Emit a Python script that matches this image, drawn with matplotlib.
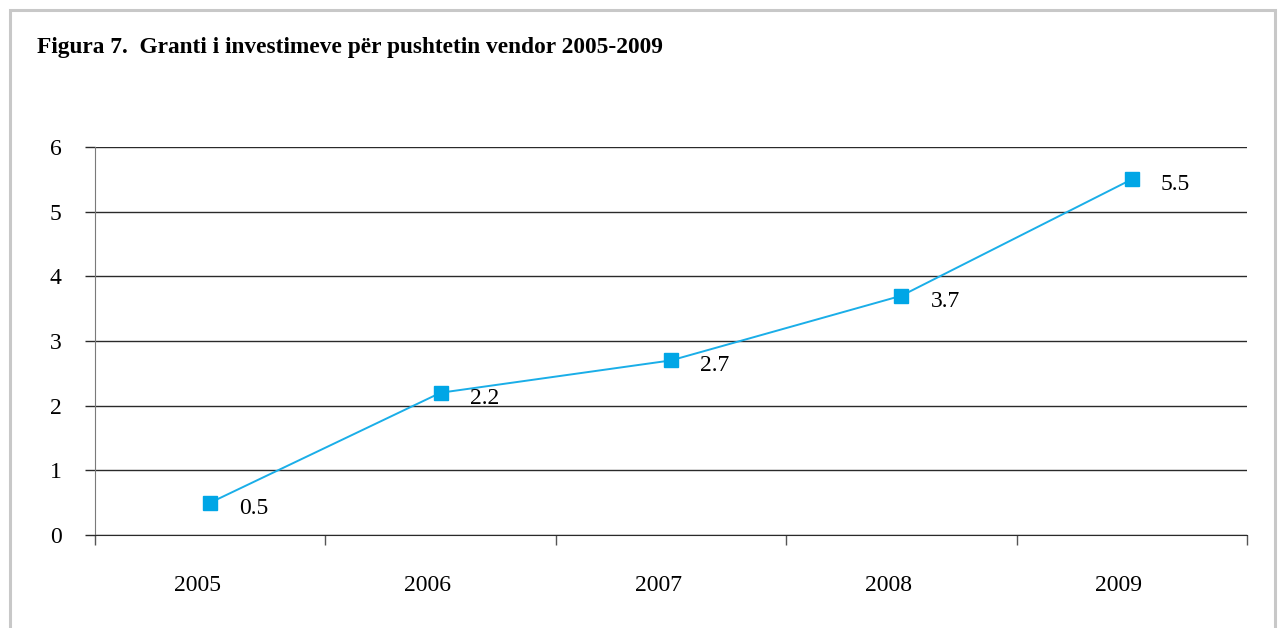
import matplotlib
matplotlib.use("Agg")
import matplotlib.pyplot as plt
import matplotlib.transforms as mtransforms
from matplotlib.patches import Rectangle
import numpy as np

years = ["2005", "2006", "2007", "2008", "2009"]
values = [0.5, 2.2, 2.7, 3.7, 5.5]
y_ticks = [0, 1, 2, 3, 4, 5, 6]
title = "Figura 7.  Granti i investimeve për pushtetin vendor 2005-2009"

plt.rcParams['font.family'] = ['Liberation Serif', 'DejaVu Serif']

fig = plt.figure(figsize=(12.81, 6.28), dpi=100)
ax = fig.add_axes([95/1281, 1-535/628, (1247-95)/1281, (535-147)/628])

# grey frame round the figure
fig.patches.append(Rectangle((10/1281, -0.05), (1275-10)/1281, 1.05-10/628,
                             transform=fig.transFigure, fill=False,
                             edgecolor='#c8c8c8', linewidth=2.2, zorder=0))

fig.text(37/1281, 1-47/628, title, fontsize=16.8, fontweight='bold',
         ha='left', va='center')

x = np.arange(len(years))
ax.plot(x, values, color='#1aaee8', lw=1.4, marker='s', markersize=9.5,
        markerfacecolor='#00a6e6', markeredgecolor='#00a6e6', zorder=3)
for xi, v in zip(x, values):
    ax.annotate(f"{v}", (xi, v), xytext=(21, -4), textcoords='offset points',
                ha='left', va='center', fontsize=17)

ax.set_xlim(-0.5, len(years) - 0.5)
ax.set_ylim(0, 6)
ax.set_yticks(y_ticks)
ax.set_xticks(x)
ax.set_xticklabels(years)
ax.set_xticks(np.arange(-0.5, len(years)), minor=True)

for yt in y_ticks:
    ax.axhline(yt, color='#2a2a2a', lw=1.0, zorder=1)

for s in ['top', 'right']:
    ax.spines[s].set_visible(False)
ax.spines['left'].set_color('#7a7a7a')
ax.spines['bottom'].set_color('#2a2a2a')

ax.tick_params(axis='y', length=7, width=1, color='#2a2a2a', pad=17, labelsize=17)
ax.tick_params(axis='x', which='major', length=0, pad=29, labelsize=17)
ax.tick_params(axis='x', which='minor', length=7, width=1, color='#555555')

# year labels sit a little left of the category centres
shift = mtransforms.ScaledTranslation(-13/100, 0, fig.dpi_scale_trans)
for lab in ax.get_xticklabels():
    lab.set_transform(lab.get_transform() + shift)

fig.savefig("out.png", dpi=100)
